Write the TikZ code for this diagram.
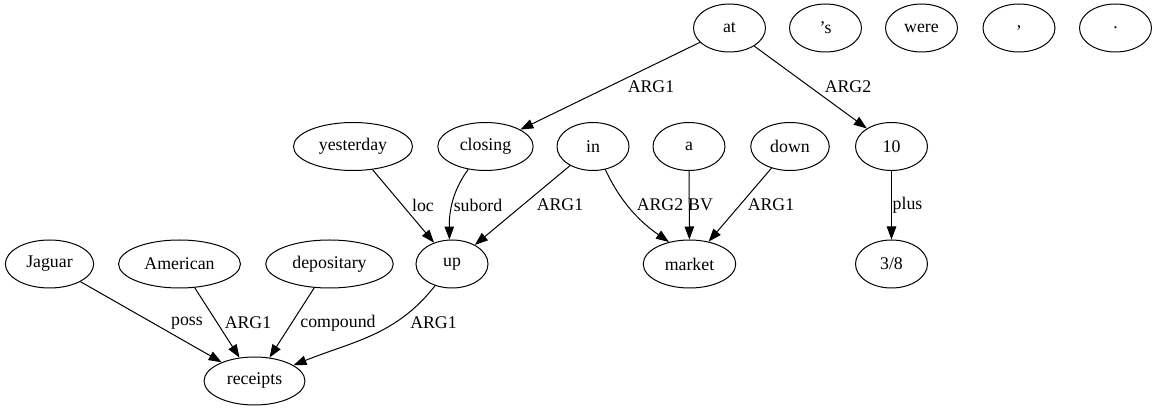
\documentclass[tikz,border=0pt]{standalone}
\usepackage{fontspec}
\setmainfont{Liberation Serif}
\usetikzlibrary{shapes.geometric,arrows.meta}
\tikzset{
  gnode/.style={ellipse, draw, line width=1pt, minimum width=72pt, minimum height=48pt,
    inner xsep=8pt, inner ysep=2pt, font=\fontsize{17.8}{20}\selectfont},
  edge/.style={line width=1pt, -{Triangle[length=13pt,width=9.5pt]}},
  lbl/.style={inner sep=0pt, font=\fontsize{17.8}{20}\selectfont}
}
\begin{document}
\begin{tikzpicture}[x=1pt,y=-1pt]
\useasboundingbox (0,0) rectangle (1157,411);
% row 1
\node[gnode] (at) at (729.5,28) {at};
\node[gnode] (s) at (825.5,28) {’s};
\node[gnode] (were) at (921.5,28) {were};
\node[gnode] (comma) at (1019,28) {,};
\node[gnode] (dot) at (1115.5,28) {.};
% row 2
\node[gnode] (yesterday) at (353,146.5) {yesterday};
\node[gnode] (closing) at (485.5,146.5) {closing};
\node[gnode] (in) at (593,146.5) {in};
\node[gnode] (a) at (689,146.5) {a};
\node[gnode] (down) at (790,146.5) {down};
\node[gnode] (ten) at (891.5,146.5) {10};
% row 3
\node[gnode] (jaguar) at (49.5,264) {Jaguar};
\node[gnode] (american) at (179.5,264) {American};
\node[gnode] (depositary) at (329.5,264) {depositary};
\node[gnode] (up) at (452,264) {up};
\node[gnode] (market) at (689.5,264) {market};
\node[gnode] (threeeighths) at (891.5,264) {3/8};
% row 4
\node[gnode] (receipts) at (254.5,381) {receipts};
% edges
\draw[edge] (at) -- (closing);
\draw[edge] (at) -- (ten);
\draw[edge] (yesterday) -- (up);
\draw[edge] (closing.-127) .. controls (456,186) and (449,205) .. (up.96);
\draw[edge] (in) -- (up);
\draw[edge] (in.-62) .. controls (615,190) and (630,215) .. (market.133);
\draw[edge] (a) -- (market);
\draw[edge] (down) -- (market);
\draw[edge] (ten) -- (threeeighths);
\draw[edge] (jaguar) -- (receipts);
\draw[edge] (american) -- (receipts);
\draw[edge] (depositary) -- (receipts);
\draw[edge] (up) to[out=-128,in=22] (receipts);
% labels
\node[lbl] (l1) at (651,87) {ARG1};
\node[lbl] (l2) at (848,87) {ARG2};
\node[lbl] (l3) at (423,205) {loc};
\node[lbl] (l4) at (478,205) {subord};
\node[lbl] (l5) at (560,205) {ARG1};
\node[lbl] (l6) at (660,205) {ARG2};
\node[lbl] (l7) at (700.5,205) {BV};
\node[lbl] (l8) at (771,205) {ARG1};
\node[lbl] (l9) at (907.5,205) {plus};
\node[lbl] (l10) at (187,323) {poss};
\node[lbl] (l11) at (248,323) {ARG1};
\node[lbl] (l12) at (338,323) {compound};
\node[lbl] (l13) at (433.5,323) {ARG1};
\end{tikzpicture}
\end{document}
